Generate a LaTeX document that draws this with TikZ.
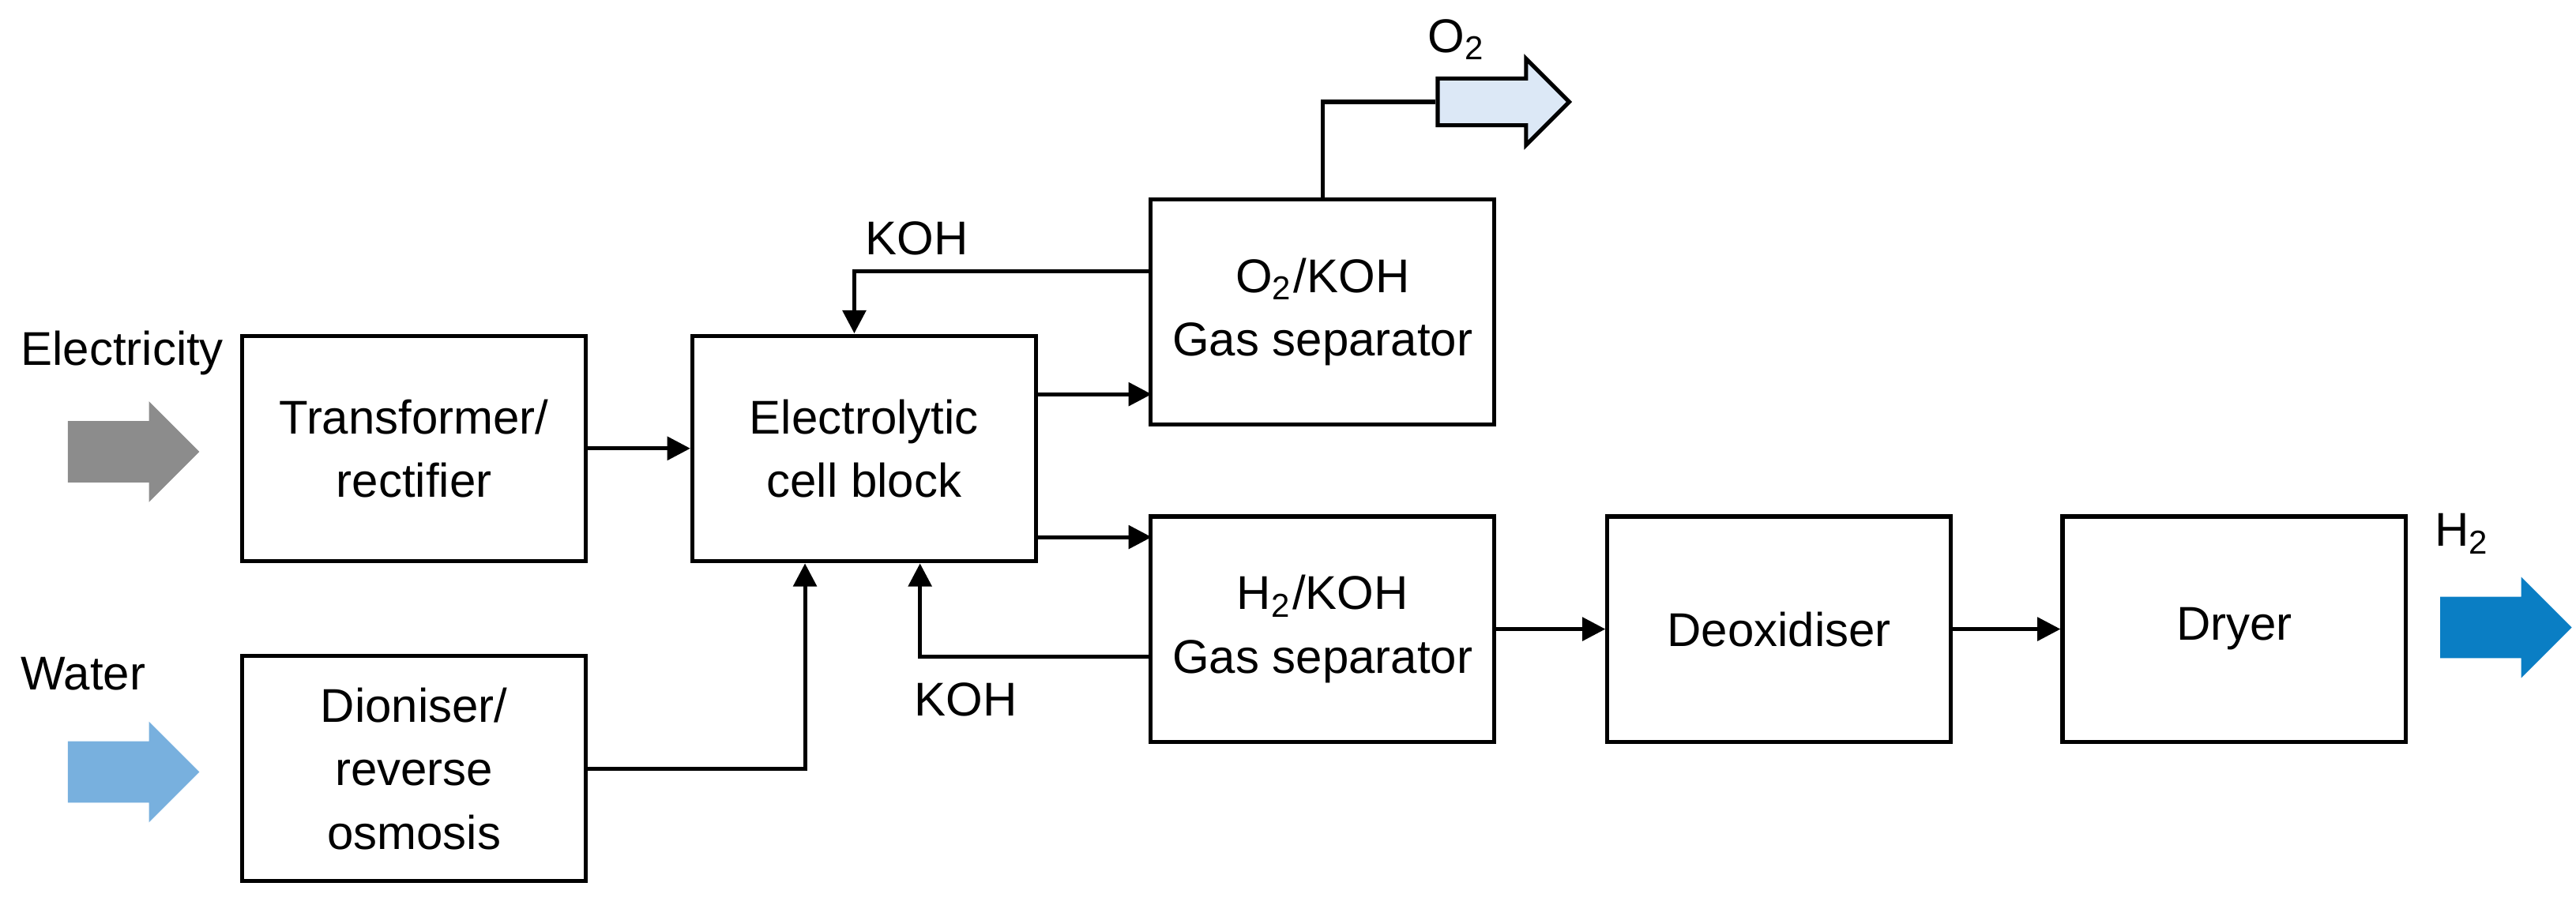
\documentclass[tikz,border=0pt]{standalone}
\usepackage{fontspec}
\setmainfont{Liberation Sans}
\usetikzlibrary{shapes.arrows,arrows.meta}
\definecolor{elgrey}{RGB}{140,140,140}
\definecolor{wblue}{RGB}{120,176,222}
\definecolor{oblue}{RGB}{220,232,246}
\definecolor{hblue}{RGB}{10,126,196}
\tikzset{
  blk/.style={draw, line width=0.7pt, minimum width=2.09cm, minimum height=1.37cm, align=center, font=\fontsize{8.2}{11}\selectfont},
  flow/.style={single arrow, minimum height=0.8cm, single arrow head extend=0.12cm, inner sep=0pt, draw=none, single arrow tip angle=90},
  lbl/.style={font=\fontsize{8.2}{10}\selectfont},
  con/.style={line width=0.7pt, -{Triangle[length=4pt,width=4pt]}}
}
\newcommand{\shaft}{\rule{0pt}{0.36cm}}
\begin{document}
\begin{tikzpicture}[x=0.01cm,y=-0.01cm]
\useasboundingbox (0,0) rectangle (1568,553);

% boxes
\node[blk] (trans) at (252,273) {Transformer/\\rectifier};
\node[blk] (dion) at (252,468) {Dioniser/\\reverse\\osmosis};
\node[blk] (cell) at (526,273) {Electrolytic\\cell block};
\node[blk] (osep) at (805,190) {O\textsubscript{2}/KOH\\Gas separator};
\node[blk] (hsep) at (805,383) {H\textsubscript{2}/KOH\\Gas separator};
\node[blk] (deox) at (1083,383) {Deoxidiser};
\node[blk] (dry) at (1360,383) {Dryer};

% inputs and outputs
\node[flow, fill=elgrey] (elec) at (72,275) {\shaft};
\node[flow, fill=wblue] (water) at (72,470) {\shaft};
\node[flow, fill=oblue, draw=black, line width=0.7pt] (oout) at (908,62) {\rule{0pt}{0.26cm}};
\node[flow, fill=hblue] (hout) at (1516,382) {\shaft};
\node[lbl, anchor=west, inner sep=0pt] (elecl) at (12,215) {Electricity};
\node[lbl, anchor=west, inner sep=0pt] (waterl) at (12,410) {Water};
\node[lbl] (ol) at (887,24) {O\textsubscript{2}};
\node[lbl] (hl) at (1499,325) {H\textsubscript{2}};
\node[lbl] (koh1) at (558,145) {KOH};
\node[lbl] (koh2) at (588,426) {KOH};

% connectors
\draw[con] (trans.east) -- (cell.west);
\draw[con] (dion.east) -| (490,343);
\draw[con] (631,240) -- (701,240);
\draw[con] (631,327) -- (701,327);
\draw[con] (701,165) -| (520,203);
\draw[con] (701,400) -| (560,343);
\draw[line width=0.7pt] (osep.north) |- (oout.west);
\draw[con] (hsep.east) -- (deox.west);
\draw[con] (deox.east) -- (dry.west);
\end{tikzpicture}
\end{document}
